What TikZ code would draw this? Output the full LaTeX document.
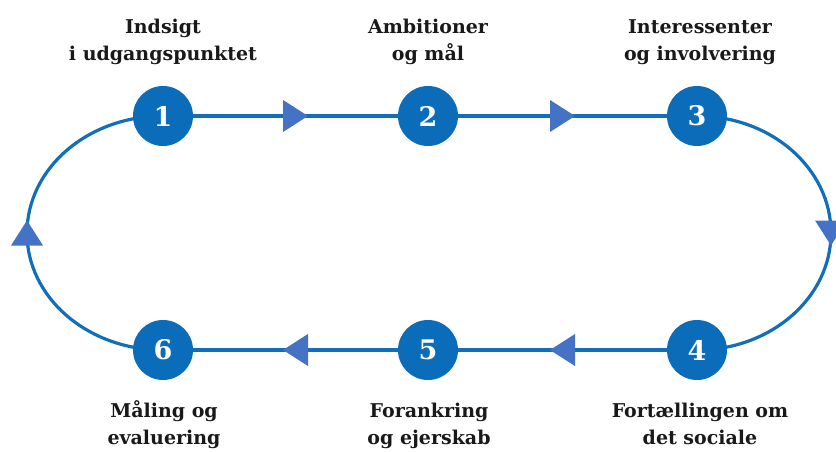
\documentclass[tikz,border=0pt]{standalone}
\usepackage{fontspec}
\setmainfont{DejaVu Serif}
\usetikzlibrary{decorations.markings,backgrounds}

\definecolor{loopblue}{RGB}{17,111,186}
\definecolor{stepblue}{RGB}{11,108,185}
\definecolor{tipblue}{RGB}{68,114,196}
\definecolor{labelgray}{RGB}{25,25,25}

\tikzset{
  stepnode/.style={circle, fill=stepblue, minimum size=60pt, inner sep=0pt,
    text=white, font=\fontsize{27}{27}\selectfont\bfseries},
  steplabel/.style={align=center, text=labelgray, inner sep=0pt,
    font=\fontsize{19}{27}\selectfont\bfseries},
  flow/.style={draw=loopblue, line width=3.2pt, postaction={decorate},
    decoration={markings, mark=at position 0.5 with
      {\fill[tipblue] (-12.5pt,-16pt) -- (12.5pt,0pt) -- (-12.5pt,16pt) -- cycle;}}}
}

\begin{document}
\begin{tikzpicture}[x=1pt,y=-1pt]
  \useasboundingbox (0,0) rectangle (836,451);

  \node [stepnode] (n1) at (163,116) {1};
  \node [stepnode] (n2) at (428,116) {2};
  \node [stepnode] (n3) at (697,116) {3};
  \node [stepnode] (n4) at (697,350) {4};
  \node [stepnode] (n5) at (428,350) {5};
  \node [stepnode] (n6) at (163,350) {6};

  \begin{scope}[on background layer]
    \path [flow] (n1.center) -- (n2.center);
    \path [flow] (n2.center) -- (n3.center);
    \path [flow] (n3.center) arc [start angle=-90, end angle=90, x radius=134, y radius=117];
    \path [flow] (n4.center) -- (n5.center);
    \path [flow] (n5.center) -- (n6.center);
    \path [flow] (n6.center) arc [start angle=90, end angle=270, x radius=136, y radius=117];
  \end{scope}

  % labels, base = last line
  \node [steplabel, anchor=base] (t1) at (163,60) {Indsigt\\i udgangspunktet};
  \node [steplabel, anchor=base] (t2) at (428,60) {Ambitioner\\og mål};
  \node [steplabel, anchor=base] (t3) at (700,60) {Interessenter\\og involvering};
  \node [steplabel, anchor=base] (t4) at (700,444) {Fortællingen om\\det sociale};
  \node [steplabel, anchor=base] (t5) at (429,444) {Forankring\\og ejerskab};
  \node [steplabel, anchor=base] (t6) at (164,444) {Måling og\\evaluering};

  %\draw [dashed] (0,233) -- (836,233);
\end{tikzpicture}
\end{document}
